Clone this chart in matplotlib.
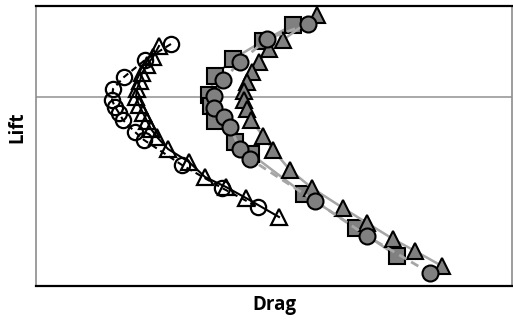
import matplotlib
matplotlib.use("Agg")
import matplotlib.pyplot as plt

# drag / lift values (arbitrary units, zero lift = 189)
open_circ_drag = [135, 109, 88, 77, 76, 79, 83, 87, 99, 108, 146, 186, 222]
open_circ_lift = [242, 226, 209, 197, 186, 179, 173, 166, 154, 146, 121, 98, 79]

open_tri_drag = [123, 117, 111, 106, 104, 101, 100, 103, 107, 111, 115, 121, 132, 153, 169, 190, 210, 243]
open_tri_lift = [240, 229, 221, 213, 205, 197, 189, 181, 173, 165, 157, 149, 137, 124, 109, 99, 88, 69]

sq_drag = [257, 227, 197, 179, 173, 175, 179, 199, 215, 268, 320, 361]
sq_lift = [261, 245, 227, 210, 191, 180, 165, 144, 132, 92, 58, 30]

circ_drag = [272, 231, 204, 187, 178, 178, 188, 194, 204, 214, 279, 331, 394]
circ_lift = [262, 247, 224, 206, 190, 178, 169, 159, 137, 127, 85, 50, 13]

tri_drag = [281, 247, 233, 223, 216, 211, 208, 208, 211, 215, 227, 237, 254, 276, 307, 331, 357, 379, 406]
tri_lift = [271, 246, 237, 224, 214, 204, 195, 186, 177, 166, 150, 136, 116, 98, 78, 63, 47, 35, 20]

zero_lift = 189

fig = plt.figure(figsize=(5.13, 3.24), dpi=100)
ax = fig.add_axes([36 / 513, 1 - 286 / 324, 476 / 513, 280 / 324])

ax.axhline(zero_lift, color="#9a9a9a", lw=1.2, zorder=1)

gray = "#808080"
lgray = "#a6a6a6"
ax.plot(sq_drag, sq_lift, color=lgray, lw=1.8, ls="-", marker="s", ms=11.5,
        mfc=gray, mec="black", mew=1.5, zorder=3)
ax.plot(tri_drag, tri_lift, color=lgray, lw=1.8, ls="-", marker="^", ms=12,
        mfc=gray, mec="black", mew=1.5, zorder=4)
ax.plot(circ_drag, circ_lift, color=lgray, lw=2, ls=(0, (3, 2)), marker="o", ms=11.5,
        mfc=gray, mec="black", mew=1.5, zorder=5)

ax.plot(open_tri_drag, open_tri_lift, color="black", lw=1.5, ls="-", marker="^", ms=11,
        mfc="none", mec="black", mew=1.6, zorder=6)
ax.plot(open_circ_drag, open_circ_lift, color="black", lw=1.5, ls=(0, (3, 2)), marker="o", ms=11,
        mfc="none", mec="black", mew=1.6, zorder=7)

ax.set_xlim(0, 476)
ax.set_ylim(0, 280)
ax.set_xticks([])
ax.set_yticks([])
for s in ["top", "bottom"]:
    ax.spines[s].set_color("black")
    ax.spines[s].set_linewidth(1.6)
for s in ["left", "right"]:
    ax.spines[s].set_color("#8c8c8c")
    ax.spines[s].set_linewidth(1.2)

fig.text(17 / 513, 1 - 127 / 324, "Lift", rotation=90, ha="center", va="center",
         fontsize=13.5, fontweight="bold", family="Open Sans")
fig.text(274 / 513, 1 - 305 / 324, "Drag", ha="center", va="center",
         fontsize=13.5, fontweight="bold", family="Open Sans")

fig.savefig("out.png", dpi=100)
